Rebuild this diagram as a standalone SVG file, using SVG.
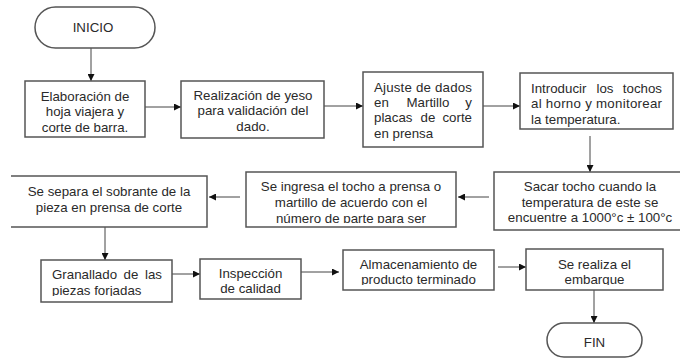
<svg xmlns="http://www.w3.org/2000/svg" width="680" height="358" viewBox="0 0 680 358">
<style>
.box{fill:#fff;stroke:#555;stroke-width:1.5}
.t{font-family:"Liberation Sans",Arial,sans-serif;font-size:13.3px;fill:#2a2a2a}
.c{text-anchor:middle}
.e{text-anchor:end}
.ln{stroke:#444;stroke-width:1;fill:none;marker-end:url(#ah)}
</style>
<defs>
<marker id="ah" viewBox="0 0 10 10" refX="10" refY="5" markerWidth="7" markerHeight="7" markerUnits="userSpaceOnUse" orient="auto">
<path d="M0,0 L10,5 L0,10 Z" fill="#111"/>
</marker>
<clipPath id="c6"><rect x="246" y="172" width="210" height="51"/></clipPath>
<clipPath id="c8"><rect x="41" y="260" width="131" height="36"/></clipPath>
<clipPath id="c10"><rect x="343" y="250" width="151" height="35"/></clipPath>
<clipPath id="c11"><rect x="526" y="249" width="137" height="36"/></clipPath>
</defs>
<rect width="680" height="358" fill="#fff"/>
<g id="connectors">
<line class="ln" x1="91" y1="48" x2="91" y2="81"/>
<line class="ln" x1="145" y1="107" x2="181" y2="107"/>
<line class="ln" x1="324" y1="106" x2="363" y2="106"/>
<line class="ln" x1="483" y1="106" x2="520" y2="106"/>
<line class="ln" x1="590" y1="136" x2="590" y2="172"/>
<line class="ln" x1="489" y1="197" x2="458" y2="197"/>
<line class="ln" x1="240" y1="197" x2="209" y2="197"/>
<line class="ln" x1="105" y1="227" x2="105" y2="260"/>
<line class="ln" x1="172" y1="274" x2="200" y2="274"/>
<line class="ln" x1="301" y1="272" x2="339" y2="272"/>
<line class="ln" x1="498" y1="267" x2="526" y2="267"/>
<line class="ln" x1="594" y1="290" x2="594" y2="323"/>
</g>
<g id="inicio">
<rect class="box" x="35" y="7" width="120" height="41" rx="20.5"/>
<text class="t c" x="93" y="31.5">INICIO</text>
</g>
<g id="n1">
<rect class="box" x="25" y="81" width="120" height="56"/>
<text class="t c" x="85" y="101">Elaboración de</text>
<text class="t c" x="85" y="116">hoja viajera y</text>
<text class="t c" x="85" y="131.5">corte de barra.</text>
</g>
<g id="n2">
<rect class="box" x="181" y="81" width="143" height="57"/>
<text class="t c" x="253" y="99.5">Realización de yeso</text>
<text class="t c" x="253" y="115">para validación del</text>
<text class="t c" x="253" y="131">dado.</text>
</g>
<g id="n3">
<rect class="box" x="363" y="72" width="120" height="75"/>
<text class="t" x="374" y="91.5" textLength="98" lengthAdjust="spacing">Ajuste de dados</text>
<text class="t" x="374" y="106.5">en</text>
<text class="t" x="406.5" y="106.5">Martillo</text>
<text class="t e" x="472" y="106.5">y</text>
<text class="t" x="374" y="122">placas</text>
<text class="t" x="420.5" y="122">de</text>
<text class="t e" x="472" y="122">corte</text>
<text class="t" x="374" y="137.5">en prensa</text>
</g>
<g id="n4">
<rect class="box" x="520" y="73" width="153" height="56"/>
<text class="t" x="531" y="92.5">Introducir</text>
<text class="t" x="596.5" y="92.5">los</text>
<text class="t e" x="662" y="92.5">tochos</text>
<text class="t" x="531" y="108" textLength="131" lengthAdjust="spacing">al horno y monitorear</text>
<text class="t" x="531" y="123.5">la temperatura.</text>
</g>
<g id="n5">
<rect class="box" x="494" y="172" width="192" height="58"/>
<text class="t c" x="590" y="191">Sacar tocho cuando la</text>
<text class="t c" x="590" y="206.5">temperatura de este se</text>
<text class="t c" x="590" y="222">encuentre a 1000°c ± 100°c</text>
</g>
<g id="n6">
<rect class="box" x="246" y="172" width="210" height="55"/>
<g clip-path="url(#c6)">
<text class="t c" x="351" y="191">Se ingresa el tocho a prensa o</text>
<text class="t c" x="351" y="207">martillo de acuerdo con el</text>
<text class="t c" x="351" y="222.5">número de parte para ser</text>
</g>
</g>
<g id="n7">
<path class="box" d="M11,176 H207 V227 H11"/>
<text class="t c" x="109" y="196">Se separa el sobrante de la</text>
<text class="t c" x="109" y="211.5">pieza en prensa de corte</text>
</g>
<g id="n8">
<rect class="box" x="41" y="260" width="131" height="42"/>
<g clip-path="url(#c8)">
<text class="t" x="52" y="278.5">Granallado</text>
<text class="t" x="123.5" y="278.5">de</text>
<text class="t e" x="162" y="278.5">las</text>
<text class="t" x="52" y="295">piezas forjadas</text>
</g>
</g>
<g id="n9">
<rect class="box" x="200" y="259" width="101" height="40"/>
<text class="t c" x="250.5" y="277.5">Inspección</text>
<text class="t c" x="250.5" y="292.5">de calidad</text>
</g>
<g id="n10">
<rect class="box" x="343" y="250" width="151" height="40"/>
<g clip-path="url(#c10)">
<text class="t c" x="418.5" y="268.5">Almacenamiento de</text>
<text class="t c" x="418.5" y="283.5">producto terminado</text>
</g>
</g>
<g id="n11">
<rect class="box" x="526" y="249" width="137" height="41"/>
<g clip-path="url(#c11)">
<text class="t c" x="594.5" y="268.5">Se realiza el</text>
<text class="t c" x="594.5" y="283.5">embarque</text>
</g>
</g>
<g id="fin">
<rect class="box" x="547" y="323" width="95" height="34" rx="17"/>
<text class="t c" x="594.5" y="346.5">FIN</text>
</g>
</svg>
